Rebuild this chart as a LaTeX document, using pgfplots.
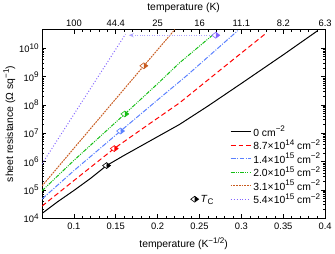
\documentclass[border=0pt]{standalone}
\usepackage{fontspec}
\setmainfont{Liberation Sans}
\usepackage{pgfplots}
\pgfplotsset{compat=1.18}
\usetikzlibrary{arrows.meta}
\definecolor{cred}{RGB}{255,0,0}
\definecolor{cblue}{RGB}{90,128,255}
\definecolor{cgreen}{RGB}{20,190,20}
\definecolor{cbrown}{RGB}{200,90,30}
\definecolor{cpurple}{RGB}{130,100,255}
\definecolor{carrow}{RGB}{175,165,255}
\newcommand{\sups}[1]{\raisebox{0.42em}{\fontsize{8.2}{8}\selectfont #1}}
\pgfplotsset{
  tcmark/.style={only marks, mark=halfdiamond*, mark size=4pt,
    mark options={rotate=-90, solid, line width=0.6pt, fill=white, mark color=#1, draw=#1}, forget plot},
  marklegend/.style={legend image code/.code={\draw[##1] plot coordinates {(0.15cm,0cm)};}},
  sBlack/.style={black, solid, line width=1pt},
  sRed/.style={color=cred, line width=1pt, dash pattern=on 5pt off 3pt},
  sBlue/.style={color=cblue, line width=1pt, dash pattern=on 5pt off 1.5pt on 1pt off 1.5pt},
  sGreen/.style={color=cgreen, line width=1pt, dash pattern=on 4pt off 1.2pt on 1pt off 1.2pt on 1pt off 1.2pt},
  sBrown/.style={color=cbrown, line width=1pt, dash pattern=on 1.8pt off 1pt},
  sPurple/.style={color=cpurple, line width=1pt, dash pattern=on 1pt off 2pt},
}
\begin{document}
\begin{tikzpicture}
\begin{axis}[
  name=main,
  scale only axis, width=287pt, height=191pt,
  xmin=0.062, xmax=0.4,
  ymode=log, ymin=1e4, ymax=4.47e10,
  xtick={0.1,0.15,0.2,0.25,0.3,0.35,0.4},
  minor x tick num=4,
  xtick pos=both, xticklabel pos=lower,
  ytick={1e4,1e5,1e6,1e7,1e8,1e9,1e10},
  yticklabels={10\sups{4},10\sups{5},10\sups{6},10\sups{7},10\sups{8},10\sups{9},10\sups{10}},
  ytick pos=both, yticklabel pos=left,
  tick align=inside,
  major tick length=4pt, minor tick length=2.2pt,
  every tick/.style={black, line width=0.6pt},
  axis line style={line width=0.8pt},
  /pgf/number format/assume math mode=true,
  tick label style={font=\fontsize{9.5}{11}\selectfont},
  xticklabel style={yshift=-1pt},
  label style={font=\fontsize{10.5}{12}\selectfont},
  xlabel={temperature (K\sups{−1/2})},
  xlabel style={yshift=-1.5pt},
  ylabel={sheet resistance (Ω sq\sups{−1})},
  ylabel style={yshift=-3pt},
  legend columns=2,
  legend style={draw=none, fill=none, at={(0.99,0.50)}, anchor=north east,
    font=\fontsize{10.5}{12}\selectfont, row sep=-2pt, inner sep=0pt,
    /tikz/every even column/.append style={column sep=15pt}},
  legend cell align=left,
  legend image code/.code={\draw[#1] (0cm,0cm) -- (0.72cm,0cm);},
]
\addplot[sBlack, forget plot] coordinates {
 (0.062,1.48e4) (0.08,3.72e4) (0.10,9.55e4) (0.12,2.57e5) (0.139,7.24e5)
 (0.16,1.66e6) (0.18,3.55e6) (0.20,7.59e6) (0.226,2.04e7) (0.26,9.12e7)
 (0.30,5.75e8) (0.35,5.89e9) (0.391,4.17e10)};
\addplot[sRed, forget plot] coordinates {
 (0.062,2.69e4) (0.10,2.14e5) (0.148,2.88e6) (0.19,2.14e7) (0.226,1.17e8)
 (0.28,2.29e9) (0.3286,3.24e10)};
\addplot[sBlue, forget plot] coordinates {
 (0.062,4.79e4) (0.10,4.79e5) (0.1557,1.20e7) (0.20,1.51e8) (0.2353,1.12e9) (0.2956,4.17e10)};
\addplot[sGreen, forget plot] coordinates {
 (0.062,9.33e4) (0.10,1.10e6) (0.1608,4.79e7) (0.20,5.62e8) (0.2259,3.02e9) (0.267,3.16e10)};
\addplot[sBrown, forget plot] coordinates {
 (0.062,1.38e5) (0.10,2.95e6) (0.1835,2.40e9) (0.2205,4.57e10)};
\addplot[sPurple, forget plot] coordinates {
 (0.062,8.32e5) (0.1616,3.16e10)};
\addplot[carrow, line width=1pt, dash pattern=on 1pt off 1.5pt, -{Stealth[length=5pt,width=4pt,fill=cpurple]}, forget plot] coordinates {
 (0.262,2.88e10) (0.1655,2.88e10)};
\addplot[tcmark=black] coordinates {(0.139,7.24e5)};
\addplot[tcmark=cred] coordinates {(0.1482,2.88e6)};
\addplot[tcmark=cblue] coordinates {(0.1557,1.20e7)};
\addplot[tcmark=cgreen] coordinates {(0.1608,4.79e7)};
\addplot[tcmark=cbrown] coordinates {(0.1835,2.40e9)};
\addplot[tcmark=cpurple] coordinates {(0.2694,2.88e10)};
\addlegendimage{empty legend}\addlegendentry{}
\addlegendimage{sBlack}\addlegendentry{0 cm\sups{−2}}
\addlegendimage{empty legend}\addlegendentry{}
\addlegendimage{sRed}\addlegendentry{8.7×10\sups{14} cm\sups{−2}}
\addlegendimage{empty legend}\addlegendentry{}
\addlegendimage{sBlue}\addlegendentry{1.4×10\sups{15} cm\sups{−2}}
\addlegendimage{empty legend}\addlegendentry{}
\addlegendimage{sGreen}\addlegendentry{2.0×10\sups{15} cm\sups{−2}}
\addlegendimage{empty legend}\addlegendentry{}
\addlegendimage{sBrown}\addlegendentry{3.1×10\sups{15} cm\sups{−2}}
\addlegendimage{marklegend, only marks, mark=halfdiamond*, mark size=4pt, mark options={rotate=-90, line width=0.6pt, fill=white, mark color=black, draw=black}}
\addlegendentry{\textit{T}\raisebox{-0.25em}{\fontsize{8.2}{8}\selectfont C}}
\addlegendimage{sPurple}\addlegendentry{5.4×10\sups{15} cm\sups{−2}}
\end{axis}
\begin{axis}[
  at={(main.south west)}, anchor=south west,
  scale only axis, width=287pt, height=191pt,
  xmin=0.062, xmax=0.4, ymin=0, ymax=1,
  axis x line*=top, axis y line=none,
  axis line style={draw=none}, tick style={draw=none},
  xtick={0.1,0.15,0.2,0.25,0.3,0.35,0.4},
  xticklabels={100,44.4,25,16,11.1,8.2,6.3},
  tick label style={font=\fontsize{9.5}{11}\selectfont},
  label style={font=\fontsize{10.5}{12}\selectfont},
  xlabel={temperature (K)},
]
\end{axis}
\end{tikzpicture}
\end{document}
